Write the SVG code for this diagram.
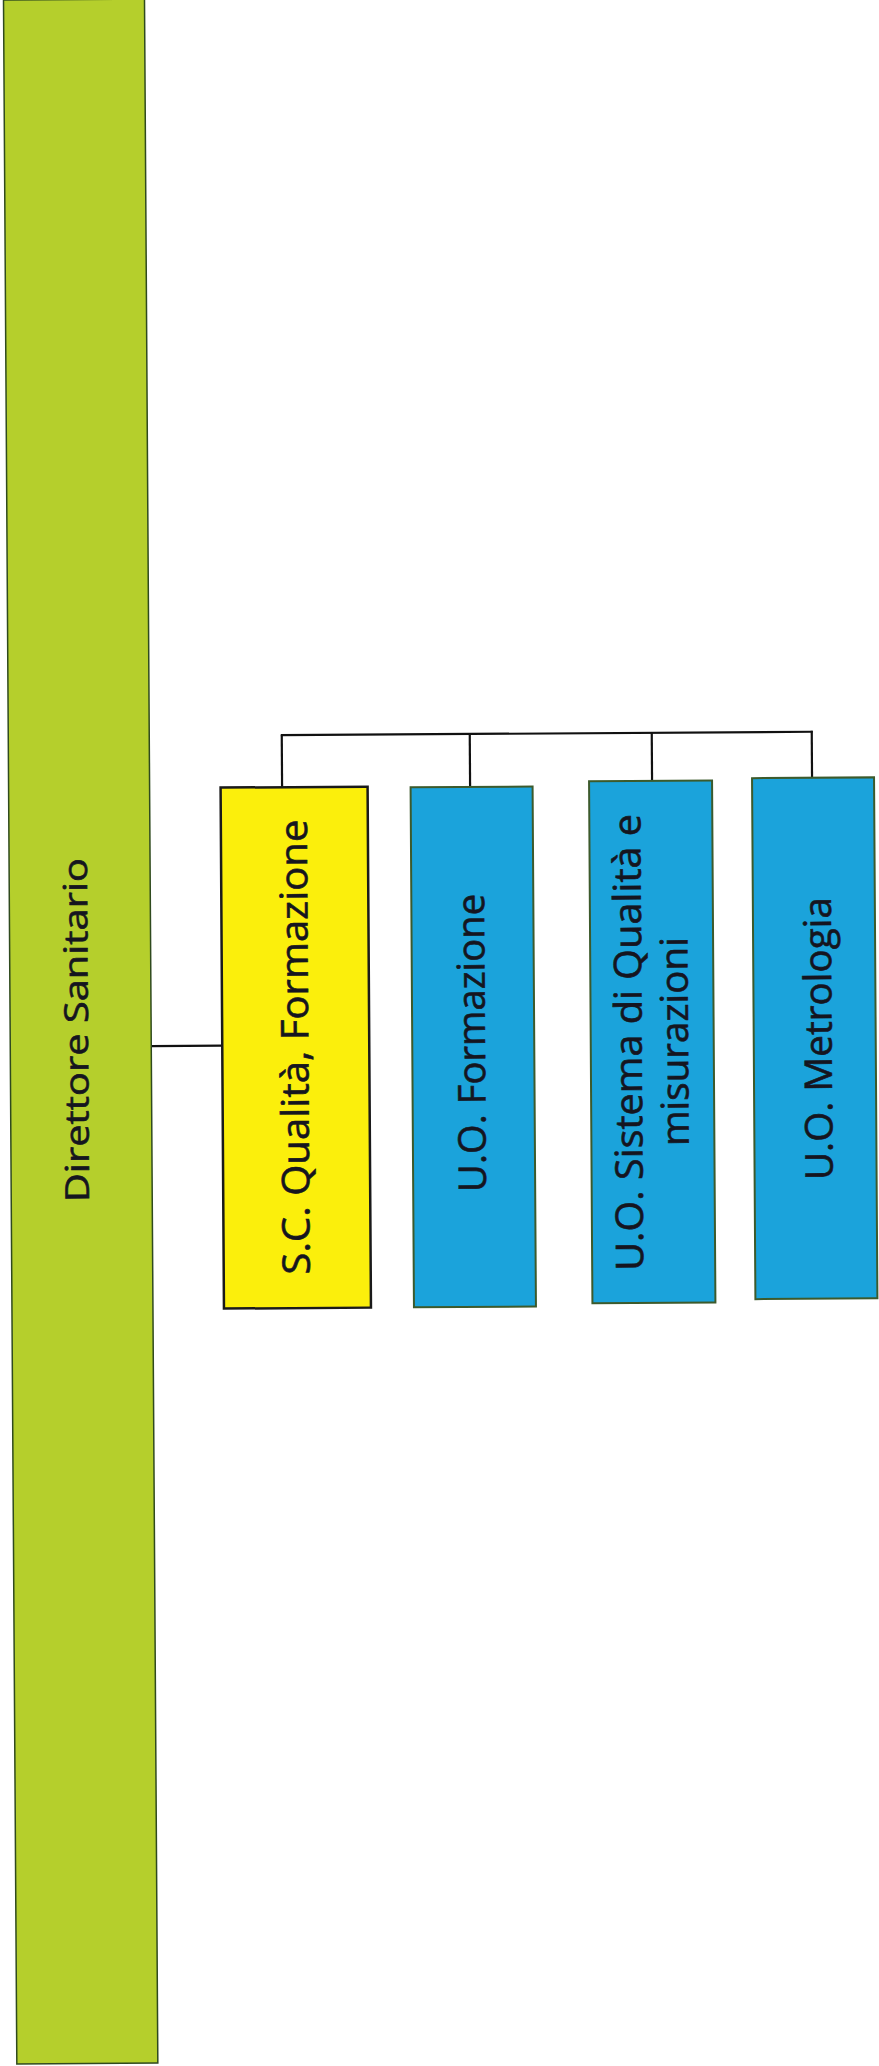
<svg xmlns="http://www.w3.org/2000/svg" width="879" height="2066" viewBox="0 0 879 2066">
  <style>
    .lbl { font-family: "Open Sans", "Liberation Sans", sans-serif; fill: #15151f; stroke: #15151f; stroke-width: 0.6; text-anchor: middle; }
    .big { font-size: 33px; }
    .box { font-size: 38px; }
    .green { fill: #b5cf2c; stroke: #2f4a1e; stroke-width: 1.5; }
    .yellow { fill: #fbef0c; stroke: #1a1a1a; stroke-width: 2.5; }
    .blue { fill: #1ba3db; stroke: #3c5a2c; stroke-width: 2; }
    .conn { stroke: #111; stroke-width: 2.2; fill: none; }
  </style>
  <rect width="879" height="2066" fill="#ffffff"/>
  <g transform="rotate(-0.37)">
    <g id="connectors">
      <line class="conn" x1="144.5" y1="1047" x2="215.5" y2="1047"/>
      <line class="conn" x1="276" y1="737" x2="808" y2="737"/>
      <line class="conn" x1="277" y1="737" x2="277" y2="789"/>
      <line class="conn" x1="465" y1="737" x2="465" y2="790"/>
      <line class="conn" x1="647" y1="737" x2="647" y2="785"/>
      <line class="conn" x1="807" y1="736" x2="807" y2="783"/>
    </g>
    <g id="direttore-sanitario">
      <rect class="green" x="3.5" y="0" width="141" height="2064"/>
      <text class="lbl big" transform="translate(81.3,1030.6) rotate(-90)" textLength="344" lengthAdjust="spacingAndGlyphs">Direttore Sanitario</text>
    </g>
    <g id="sc-qualita-formazione">
      <rect class="yellow" x="215.5" y="789" width="147" height="521"/>
      <text class="lbl box" transform="translate(301.5,1049) rotate(-90)" textLength="455" lengthAdjust="spacingAndGlyphs">S.C. Qualità, Formazione</text>
    </g>
    <g id="uo-formazione">
      <rect class="blue" x="405.5" y="790" width="122" height="520"/>
      <text class="lbl box" transform="translate(478.3,1046) rotate(-90)" textLength="298" lengthAdjust="spacingAndGlyphs">U.O. Formazione</text>
    </g>
    <g id="uo-sistema-qualita">
      <rect class="blue" x="584" y="785" width="123" height="522"/>
      <text class="lbl box" transform="translate(635,1046.5) rotate(-90)" textLength="457" lengthAdjust="spacingAndGlyphs">U.O. Sistema di Qualità e</text>
      <text class="lbl box" transform="translate(681.3,1046) rotate(-90)" textLength="209" lengthAdjust="spacingAndGlyphs">misurazioni</text>
    </g>
    <g id="uo-metrologia">
      <rect class="blue" x="747" y="783" width="122" height="521"/>
      <text class="lbl box" transform="translate(825,1043.9) rotate(-90)" textLength="283" lengthAdjust="spacingAndGlyphs">U.O. Metrologia</text>
    </g>
  </g>
</svg>
